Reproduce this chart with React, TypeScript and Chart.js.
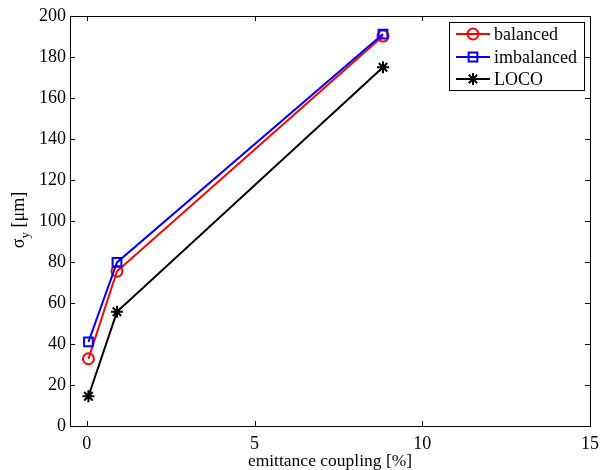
import React, { useEffect, useRef } from "react";
import { Chart, registerables } from "chart.js";

Chart.register(...registerables);

const couplingX = [0.05, 0.9, 8.83];
const balanced = [32.8, 75.5, 190.2];
const imbalanced = [41.0, 79.8, 191.2];
const loco = [14.5, 55.7, 175.0];
const xTicks = [0, 5, 10, 15];
const yTicks = [0, 20, 40, 60, 80, 100, 120, 140, 160, 180, 200];
const seriesNames = ["balanced", "imbalanced", "LOCO"];
const xTitle = "emittance coupling [%]";

const FONT = "'Liberation Serif', 'DejaVu Serif', serif";

function drawMarker(ctx: CanvasRenderingContext2D, style: string, x: number, y: number, r: number) {
  ctx.beginPath();
  if (style === "circle") {
    ctx.arc(x, y, r, 0, Math.PI * 2);
  } else if (style === "rect") {
    const s = Math.SQRT1_2 * r;
    ctx.rect(x - s, y - s, 2 * s, 2 * s);
  } else {
    for (let k = 0; k < 4; k++) {
      const a = (k * Math.PI) / 4;
      ctx.moveTo(x - Math.cos(a) * r, y - Math.sin(a) * r);
      ctx.lineTo(x + Math.cos(a) * r, y + Math.sin(a) * r);
    }
  }
  ctx.stroke();
}

const framePlugin = {
  id: "framePlugin",
  afterDraw(chart: any) {
    const { ctx, chartArea } = chart;
    const { left, right, top, bottom } = chartArea;
    const xs = chart.scales.x;
    const ys = chart.scales.y;
    ctx.save();
    ctx.strokeStyle = "#000";
    ctx.lineWidth = 1;
    ctx.strokeRect(Math.round(left) + 0.5, Math.round(top) + 0.5, Math.round(right - left), Math.round(bottom - top));
    const tl = 5;
    ctx.beginPath();
    xTicks.forEach((v) => {
      const px = Math.round(xs.getPixelForValue(v)) + 0.5;
      ctx.moveTo(px, bottom);
      ctx.lineTo(px, bottom - tl);
      ctx.moveTo(px, top);
      ctx.lineTo(px, top + tl);
    });
    yTicks.forEach((v) => {
      const py = Math.round(ys.getPixelForValue(v)) + 0.5;
      ctx.moveTo(left, py);
      ctx.lineTo(left + tl, py);
      ctx.moveTo(right, py);
      ctx.lineTo(right - tl, py);
    });
    ctx.stroke();

    // x title
    ctx.fillStyle = "#000";
    ctx.font = `17.5px ${FONT}`;
    ctx.textAlign = "center";
    ctx.textBaseline = "alphabetic";
    ctx.fillText(xTitle, (left + right) / 2, 466);

    // y title with subscript
    ctx.save();
    ctx.translate(24, 220);
    ctx.rotate(-Math.PI / 2);
    const sig = "\u03c3";
    const rest = " [\u03bcm]";
    ctx.font = `18px ${FONT}`;
    const wSig = ctx.measureText(sig).width;
    ctx.font = `13px ${FONT}`;
    const wSub = ctx.measureText("y").width;
    ctx.font = `18px ${FONT}`;
    const wRest = ctx.measureText(rest).width;
    const total = wSig + wSub + wRest;
    let x0 = -total / 2;
    ctx.textAlign = "left";
    ctx.fillText(sig, x0, 0);
    x0 += wSig;
    ctx.font = `13px ${FONT}`;
    ctx.fillText("y", x0, 5);
    x0 += wSub;
    ctx.font = `18px ${FONT}`;
    ctx.fillText(rest, x0, 0);
    ctx.restore();

    // legend
    const lx = 449.5, ly = 22.5, lw = 135, lh = 68;
    ctx.fillStyle = "#fff";
    ctx.fillRect(lx, ly, lw, lh);
    ctx.strokeStyle = "#000";
    ctx.lineWidth = 1;
    ctx.strokeRect(lx, ly, lw, lh);
    const rows = [34, 57, 79];
    chart.data.datasets.forEach((ds: any) => {
      const idx = seriesNames.indexOf(ds.label);
      const ry = rows[idx];
      ctx.strokeStyle = ds.borderColor;
      ctx.lineWidth = 2;
      ctx.beginPath();
      ctx.moveTo(456, ry);
      ctx.lineTo(490, ry);
      ctx.stroke();
      drawMarker(ctx, ds.pointStyle, 473, ry, ds.pointRadius);
      ctx.fillStyle = "#000";
      ctx.font = `18px ${FONT}`;
      ctx.textAlign = "left";
      ctx.textBaseline = "middle";
      ctx.fillText(ds.label, 494, ry + 1);
    });
    ctx.restore();
  },
};

export default function App() {
  const ref = useRef<HTMLCanvasElement>(null);
  useEffect(() => {
    if (!ref.current) return;
    const mk = (label: string, data: number[], color: string, style: string, radius: number, order: number) => ({
      label,
      data: couplingX.map((x, i) => ({ x, y: data[i] })),
      borderColor: color,
      backgroundColor: "rgba(0,0,0,0)",
      pointBackgroundColor: "rgba(0,0,0,0)",
      pointBorderColor: color,
      pointBorderWidth: 2,
      borderWidth: 2,
      pointStyle: style,
      pointRadius: radius,
      pointHoverRadius: radius,
      showLine: true,
      fill: false,
      tension: 0,
      order,
    });
    const chart = new Chart(ref.current, {
      type: "scatter",
      data: {
        datasets: [
          mk(seriesNames[0], balanced, "#ff0000", "circle", 5.5, 2),
          mk(seriesNames[1], imbalanced, "#0000ff", "rect", 6.2, 1),
          mk(seriesNames[2], loco, "#000000", "star", 6, 3),
        ],
      },
      options: {
        responsive: false,
        animation: false,
        layout: { autoPadding: false, padding: { top: 16, right: 10, left: 0, bottom: 0 } },
        plugins: { legend: { display: false }, tooltip: { enabled: false } },
        scales: {
          x: {
            type: "linear",
            min: -0.5,
            max: 15,
            afterFit: (s: any) => {
              s.height = 44;
              s.paddingLeft = 0;
              s.paddingRight = 0;
            },
            afterBuildTicks: (s: any) => {
              s.ticks = xTicks.map((v) => ({ value: v }));
            },
            grid: { display: false, drawTicks: false },
            border: { display: false },
            ticks: { color: "#000", font: { family: FONT, size: 18 }, padding: 7, maxRotation: 0 },
          },
          y: {
            type: "linear",
            min: 0,
            max: 200,
            afterFit: (s: any) => {
              s.width = 70;
              s.paddingTop = 0;
              s.paddingBottom = 0;
            },
            afterBuildTicks: (s: any) => {
              s.ticks = yTicks.map((v) => ({ value: v }));
            },
            grid: { display: false, drawTicks: false },
            border: { display: false },
            ticks: { color: "#000", font: { family: FONT, size: 18 }, padding: 4 },
          },
        },
      },
      plugins: [framePlugin],
    } as any);
    return () => chart.destroy();
  }, []);
  return (
    <div style={{ position: "absolute", left: 0, top: 0, width: 600, height: 470, background: "#fff" }}>
      <canvas ref={ref} width={600} height={470} />
    </div>
  );
}
